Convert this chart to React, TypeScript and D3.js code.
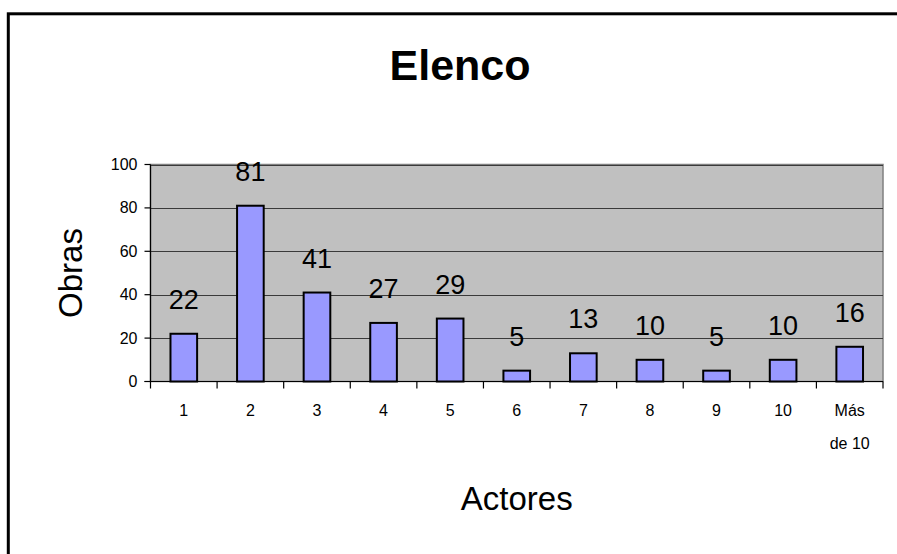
import React from "react";
import * as d3 from "d3";

const categories: string[] = ["1", "2", "3", "4", "5", "6", "7", "8", "9", "10", "Más de 10"];
const values: number[] = [22, 81, 41, 27, 29, 5, 13, 10, 5, 10, 16];
const yTicks: number[] = [0, 20, 40, 60, 80, 100];
const title = "Elenco";
const xTitle = "Actores";
const yTitle = "Obras";

const W = 897;
const H = 554;
const plot = { left: 150.5, right: 883, top: 164.5, bottom: 381.5 };
const FONT = "'Liberation Sans', Arial, sans-serif";

export default function App() {
  const x = d3.scaleBand<string>().domain(categories).range([plot.left, plot.right]);
  const y = d3.scaleLinear().domain([0, 100]).range([plot.bottom, plot.top]);
  const bw = x.bandwidth() * 0.43;
  const bandEdges = categories.map((c) => x(c) as number).concat([plot.right]);

  return (
    <svg
      width={W}
      height={H}
      style={{ position: "absolute", left: 0, top: 0, background: "#fff" }}
      fontFamily={FONT}
    >
      <rect x={0} y={0} width={W} height={H} fill="#fff" />
      {/* outer chart border */}
      <rect x={8.3} y={13.8} width={1000} height={1000} fill="none" stroke="#000" strokeWidth={3} />

      {/* title */}
      <text x={460} y={80} textAnchor="middle" fontSize={43} fontWeight="bold">
        {title}
      </text>

      {/* plot area */}
      <rect
        x={plot.left}
        y={plot.top}
        width={plot.right - plot.left}
        height={plot.bottom - plot.top}
        fill="#C0C0C0"
        stroke="#808080"
        strokeWidth={1.5}
      />
      {yTicks
        .filter((t) => t > 0)
        .map((t) => (
          <line
            key={"g" + t}
            x1={plot.left}
            x2={plot.right}
            y1={Math.round(y(t)) + 0.5}
            y2={Math.round(y(t)) + 0.5}
            stroke="#3a3a3a"
            strokeWidth={1}
          />
        ))}

      {/* bars */}
      {values.map((v, i) => {
        const cx = (x(categories[i]) as number) + x.bandwidth() / 2;
        return (
          <rect
            key={"b" + i}
            x={cx - bw / 2 + 1}
            y={y(v)}
            width={bw - 2}
            height={y(0) - y(v)}
            fill="#9999FF"
            stroke="#000"
            strokeWidth={2}
          />
        );
      })}

      {/* data labels */}
      {values.map((v, i) => {
        const cx = (x(categories[i]) as number) + x.bandwidth() / 2;
        return (
          <text key={"l" + i} x={cx} y={y(v) - 25} textAnchor="middle" fontSize={27} fill="#000">
            {v}
          </text>
        );
      })}

      {/* axes */}
      <line x1={plot.left} x2={plot.left} y1={plot.top} y2={plot.bottom} stroke="#000" strokeWidth={1.2} />
      <line x1={plot.left - 6} x2={plot.right} y1={plot.bottom} y2={plot.bottom} stroke="#000" strokeWidth={1.2} />
      {yTicks.map((t) => (
        <g key={"yt" + t}>
          <line x1={plot.left - 6} x2={plot.left} y1={y(t)} y2={y(t)} stroke="#000" strokeWidth={1.2} />
          <text x={plot.left - 13} y={y(t) + 5.5} textAnchor="end" fontSize={16}>
            {t}
          </text>
        </g>
      ))}
      {bandEdges.map((e, i) => (
        <line key={"xt" + i} x1={e} x2={e} y1={plot.bottom} y2={plot.bottom + 7} stroke="#000" strokeWidth={1.2} />
      ))}
      {categories.map((c) => {
        const cx = (x(c) as number) + x.bandwidth() / 2;
        const parts = c === "Más de 10" ? ["Más", "de 10"] : [c];
        return (
          <text key={"xl" + c} x={cx} y={416} textAnchor="middle" fontSize={16}>
            {parts.map((p, j) => (
              <tspan key={j} x={cx} dy={j === 0 ? 0 : 33}>
                {p}
              </tspan>
            ))}
          </text>
        );
      })}

      {/* axis titles */}
      <text x={(plot.left + plot.right) / 2} y={510} textAnchor="middle" fontSize={33}>
        {xTitle}
      </text>
      <text
        transform={`translate(82, ${(plot.top + plot.bottom) / 2}) rotate(-90)`}
        textAnchor="middle"
        fontSize={33}
      >
        {yTitle}
      </text>
    </svg>
  );
}
